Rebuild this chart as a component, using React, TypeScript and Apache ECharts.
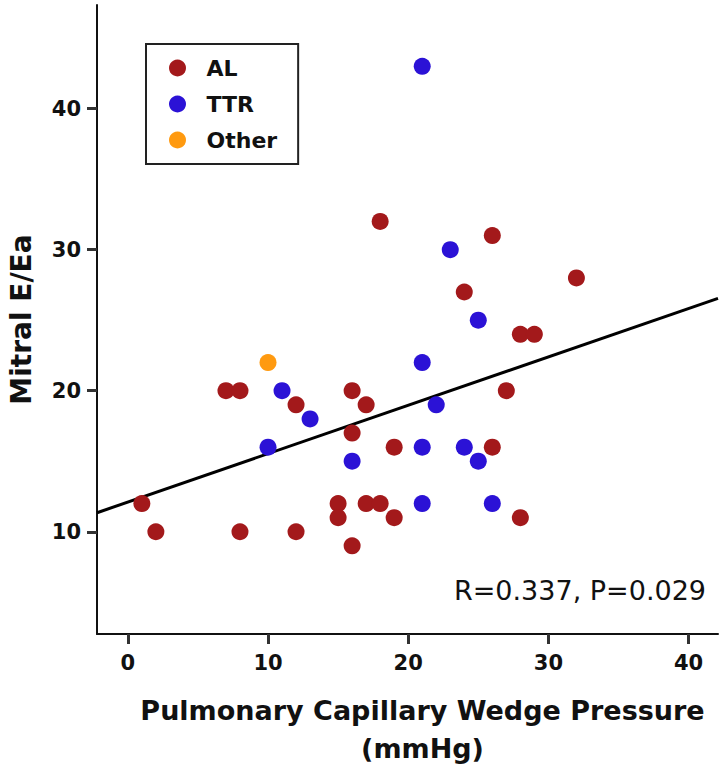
import React, { useEffect, useRef } from "react";
import * as echarts from "echarts";

// Data (x = PCWP mmHg, y = Mitral E/Ea)
const alPoints: [number, number][] = [
  [1, 12], [2, 10], [7, 20], [8, 20], [8, 10], [12, 19], [12, 10],
  [15, 12], [15, 11], [16, 20], [16, 17], [16, 9], [17, 19], [17, 12],
  [18, 12], [18, 32], [19, 16], [19, 11], [24, 27], [26, 31], [26, 16],
  [27, 20], [28, 24], [28, 11], [29, 24], [32, 28],
];
const ttrPoints: [number, number][] = [
  [10, 16], [11, 20], [13, 18], [16, 15], [21, 43], [21, 22], [21, 16],
  [21, 12], [22, 19], [23, 30], [24, 16], [25, 25], [25, 15], [26, 12],
];
const otherPoints: [number, number][] = [[10, 22]];
const fitLine: [number, number][] = [[-2.2, 11.35], [42.1, 26.55]];

const xTicks = [0, 10, 20, 30, 40];
const yTicks = [10, 20, 30, 40];
const xRange = [-2.2, 42.1];
const yRange = [2.75, 47.35];
const statsText = "R=0.337, P=0.029";

const FONT = "'DejaVu Sans', sans-serif";
const INK = "#111111";

export default function App() {
  const ref = useRef<HTMLDivElement>(null);
  useEffect(() => {
    if (!ref.current) return;
    const chart = echarts.init(ref.current, undefined, { renderer: "svg" });
    const axisLine = { show: true, onZero: false, lineStyle: { color: INK, width: 2 } };
    const tickCfg = (vals: number[]) => ({
      show: true,
      inside: false,
      length: 10,
      customValues: vals,
      lineStyle: { color: "#333333", width: 3, opacity: 1, type: "solid" },
    });
    chart.setOption({
      animation: false,
      backgroundColor: "#ffffff",
      grid: { left: 97, top: 5, width: 621, height: 629, containLabel: false, outerBoundsMode: "none" },
      legend: {
        orient: "vertical",
        left: 146,
        top: 44,
        icon: "circle",
        itemWidth: 48,
        itemHeight: 17,
        itemGap: 14,
        padding: [13, 21, 13, 23],
        borderColor: "#222222",
        borderWidth: 2,
        textStyle: { fontFamily: FONT, fontSize: 22, fontWeight: "bold", color: INK },
        data: ["AL", "TTR", "Other"],
      },
      xAxis: {
        type: "value",
        min: xRange[0],
        max: xRange[1],
        name: "Pulmonary Capillary Wedge Pressure\n(mmHg)",
        nameLocation: "middle",
        nameGap: 57,
        nameMoveOverlap: false,
        nameTextStyle: {
          fontFamily: FONT, fontSize: 27, fontWeight: "bold", color: INK, lineHeight: 38,
          padding: [0, 0, 0, 30],
        },
        axisLine,
        axisTick: tickCfg(xTicks),
        axisLabel: { customValues: xTicks, margin: 18, fontFamily: FONT, fontSize: 21, fontWeight: "bold", color: INK },
        splitLine: { show: false },
      },
      yAxis: {
        type: "value",
        min: yRange[0],
        max: yRange[1],
        name: "Mitral E/Ea",
        nameLocation: "middle",
        nameGap: 62,
        nameMoveOverlap: false,
        nameRotate: 90,
        nameTextStyle: { fontFamily: FONT, fontSize: 28, fontWeight: "bold", color: INK },
        axisLine,
        axisTick: tickCfg(yTicks),
        axisLabel: { customValues: yTicks, margin: 16, fontFamily: FONT, fontSize: 21, fontWeight: "bold", color: INK },
        splitLine: { show: false },
      },
      series: [
        {
          name: "fit",
          type: "line",
          data: fitLine,
          symbol: "none",
          lineStyle: { color: "#000000", width: 3 },
          z: 1,
        },
        {
          name: "AL",
          type: "scatter",
          data: alPoints,
          symbol: "circle",
          symbolSize: 17,
          itemStyle: { color: "#a3191b", opacity: 1 },
          z: 3,
        },
        {
          name: "TTR",
          type: "scatter",
          data: ttrPoints,
          symbol: "circle",
          symbolSize: 17,
          itemStyle: { color: "#2b12d6", opacity: 1 },
          z: 3,
        },
        {
          name: "Other",
          type: "scatter",
          data: otherPoints,
          symbol: "circle",
          symbolSize: 17,
          itemStyle: { color: "#ff9a10", opacity: 1 },
          z: 3,
        },
      ],
      graphic: [
        {
          type: "text",
          right: 20,
          top: 577,
          style: { text: statsText, fontFamily: FONT, fontSize: 27, fill: INK },
        },
      ],
    });
    return () => chart.dispose();
  }, []);
  return (
    <div
      ref={ref}
      style={{ position: "fixed", left: 0, top: 0, width: 726, height: 769, background: "#ffffff" }}
    />
  );
}
